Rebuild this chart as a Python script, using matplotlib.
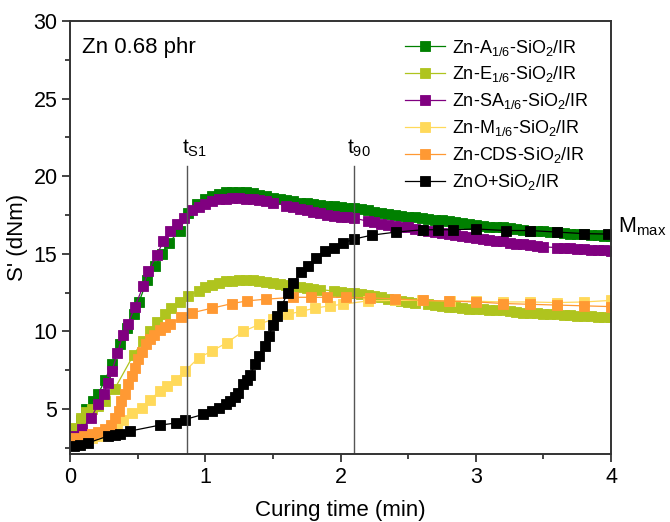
import matplotlib
matplotlib.use("Agg")
import matplotlib.pyplot as plt
from matplotlib.ticker import MultipleLocator

plt.rcParams['font.family'] = ['Liberation Sans', 'DejaVu Sans']
plt.rcParams['mathtext.fontset'] = 'custom'
plt.rcParams['mathtext.rm'] = 'Liberation Sans'
plt.rcParams['mathtext.it'] = 'Liberation Sans'
plt.rcParams['mathtext.default'] = 'regular'

# Curing curves: torque S' (dNm) versus curing time (min)
t_A = [0.04, 0.08, 0.12, 0.17, 0.21, 0.26, 0.31, 0.37, 0.42, 0.47, 0.51, 0.57, 0.63, 0.68,
       0.73, 0.81, 0.87, 0.94,
       1.0, 1.05, 1.1, 1.15, 1.2, 1.25, 1.3, 1.35, 1.4, 1.45, 1.5, 1.55, 1.6, 1.65, 1.7,
       1.75, 1.8, 1.85, 1.9, 1.95, 2.0, 2.05, 2.1, 2.15, 2.2, 2.25, 2.3, 2.35, 2.4, 2.45,
       2.5, 2.55, 2.6, 2.65, 2.7, 2.75, 2.8, 2.85, 2.9, 2.95, 3.0, 3.05, 3.1, 3.15, 3.2,
       3.25, 3.3, 3.35, 3.4, 3.45, 3.5, 3.55, 3.6, 3.65, 3.7, 3.75, 3.8, 3.85, 3.9, 3.95,
       4.0]
s_A = [3.7, 4.3, 5.0, 5.5, 6.0, 6.9, 7.9, 9.2, 10.2, 11.1, 11.9, 13.3, 14.2, 15.0,
       15.7, 16.5, 17.6, 18.2,
       18.55, 18.7, 18.85, 18.95, 19.0, 19.0, 18.97, 18.9, 18.8, 18.7, 18.6, 18.52, 18.45,
       18.38, 18.3, 18.25, 18.2, 18.15, 18.1, 18.05, 18.0, 17.97, 17.95, 17.88, 17.8,
       17.72, 17.65, 17.58, 17.5, 17.45, 17.4, 17.35, 17.3, 17.25, 17.2, 17.15, 17.1,
       17.05, 17.0, 16.92, 16.85, 16.8, 16.75, 16.72, 16.7, 16.65, 16.6, 16.55, 16.5,
       16.47, 16.45, 16.42, 16.4, 16.35, 16.3, 16.28, 16.25, 16.22, 16.2, 16.17, 16.15]

t_E = [0.02, 0.04, 0.08, 0.12, 0.16, 0.21, 0.26, 0.33, 0.47, 0.54, 0.59, 0.64, 0.7, 0.75,
       0.81, 0.875, 0.95,
       1.0, 1.05, 1.1, 1.15, 1.2, 1.25, 1.3, 1.35, 1.4, 1.45, 1.5, 1.55, 1.6, 1.65, 1.7,
       1.75, 1.8, 1.85, 1.95, 2.0, 2.05, 2.1, 2.15, 2.2, 2.25, 2.3, 2.35, 2.4, 2.45, 2.5,
       2.55, 2.65, 2.7, 2.75, 2.8, 2.85, 2.9, 2.95, 3.0, 3.05, 3.1, 3.15, 3.2, 3.25, 3.3,
       3.35, 3.4, 3.45, 3.5, 3.55, 3.6, 3.65, 3.7, 3.75, 3.8, 3.85, 3.9, 3.95, 4.0]
s_E = [3.5, 3.8, 4.4, 4.8, 5.0, 5.2, 5.5, 6.3, 8.5, 9.4, 10.0, 10.6, 11.1, 11.5,
       11.9, 12.3, 12.6,
       12.85, 13.0, 13.15, 13.22, 13.28, 13.3, 13.3, 13.3, 13.25, 13.2, 13.12, 13.05, 13.0,
       12.92, 12.85, 12.8, 12.75, 12.7, 12.6, 12.55, 12.5, 12.45, 12.4, 12.35, 12.28, 12.2,
       12.12, 12.05, 11.98, 11.9, 11.85, 11.75, 11.7, 11.65, 11.6, 11.55, 11.5, 11.47,
       11.45, 11.42, 11.4, 11.37, 11.35, 11.3, 11.25, 11.22, 11.2, 11.17, 11.15, 11.12,
       11.1, 11.07, 11.05, 11.02, 11.0, 10.97, 10.95, 10.92, 10.9]

t_SA = [0.04, 0.09, 0.155, 0.21, 0.25, 0.28, 0.31, 0.35, 0.39, 0.43, 0.48, 0.54, 0.58,
        0.64, 0.69, 0.74, 0.79, 0.84, 0.9, 0.95,
        1.0, 1.05, 1.1, 1.15, 1.2, 1.25, 1.3, 1.35, 1.4, 1.45, 1.5, 1.6, 1.65, 1.7, 1.75,
        1.8, 1.85, 1.9, 1.95, 2.0, 2.05, 2.1, 2.2, 2.25, 2.3, 2.35, 2.4, 2.45, 2.5, 2.55,
        2.6, 2.65, 2.7, 2.75, 2.8, 2.85, 2.9, 2.95, 3.0, 3.05, 3.1, 3.15, 3.2, 3.25, 3.3,
        3.35, 3.4, 3.45, 3.5, 3.6, 3.65, 3.7, 3.75, 3.8, 3.85, 3.9, 3.95, 4.0]
s_SA = [3.3, 3.7, 4.45, 5.3, 6.0, 6.7, 7.45, 8.6, 9.75, 10.5, 11.6, 12.9, 13.9,
        14.9, 15.8, 16.5, 16.9, 17.3, 17.8, 18.0,
        18.2, 18.4, 18.5, 18.55, 18.6, 18.6, 18.55, 18.5, 18.45, 18.38, 18.3, 18.1, 18.0,
        17.9, 17.8, 17.7, 17.6, 17.5, 17.45, 17.4, 17.35, 17.3, 17.1, 17.02, 16.95, 16.88,
        16.8, 16.75, 16.7, 16.62, 16.55, 16.48, 16.4, 16.35, 16.3, 16.22, 16.15, 16.08,
        16.0, 15.95, 15.9, 15.85, 15.8, 15.72, 15.65, 15.6, 15.55, 15.5, 15.45, 15.4,
        15.38, 15.35, 15.32, 15.3, 15.27, 15.25, 15.22, 15.2]

t_M = [0.06, 0.11, 0.16, 0.21, 0.26, 0.31, 0.35, 0.39, 0.46, 0.53, 0.59, 0.665, 0.715,
       0.78, 0.85, 0.95, 1.05, 1.16, 1.28, 1.4, 1.5, 1.61, 1.71, 1.81, 1.92, 2.02, 2.2, 2.4,
       2.6, 2.81, 3.0, 3.2, 3.4, 3.6, 3.8, 4.0]
s_M = [2.9, 3.0, 3.15, 3.3, 3.5, 3.7, 4.0, 4.33, 4.76, 5.08, 5.6, 6.16, 6.5,
       6.9, 7.45, 8.3, 8.74, 9.28, 10.0, 10.46, 10.8, 11.1, 11.3, 11.5, 11.65, 11.75, 11.97,
       12.0, 12.0, 11.97, 11.95, 11.9, 11.9, 11.86, 11.9, 12.0]

t_CDS = [0.04, 0.1, 0.16, 0.21, 0.26, 0.3, 0.33, 0.36, 0.38, 0.41, 0.43, 0.46, 0.48, 0.5,
         0.53, 0.56, 0.59, 0.62, 0.665, 0.7, 0.74, 0.82, 0.9, 1.05, 1.2, 1.31, 1.45, 1.65,
         1.78, 1.9, 2.04, 2.22, 2.4, 2.61, 2.8, 3.0, 3.2, 3.4, 3.6, 3.8, 4.0]
s_CDS = [3.15, 3.25, 3.37, 3.5, 3.7, 4.0, 4.44, 4.9, 5.5, 6.0, 6.6, 7.1, 7.66, 8.2,
         8.7, 9.2, 9.5, 9.8, 10.1, 10.3, 10.46, 10.9, 11.2, 11.5, 11.8, 11.97, 12.08, 12.2,
         12.2, 12.2, 12.2, 12.16, 12.1, 12.0, 11.95, 11.9, 11.8, 11.75, 11.7, 11.65, 11.6]

t_ZnO = [0.03, 0.074, 0.135, 0.28, 0.33, 0.37, 0.44, 0.665, 0.78, 0.85, 0.985, 1.05, 1.1,
         1.15, 1.18, 1.22, 1.245, 1.28, 1.31, 1.33, 1.37, 1.4, 1.44, 1.47, 1.5, 1.53, 1.565,
         1.61, 1.65, 1.71, 1.76, 1.82, 1.885, 1.95, 2.02, 2.1, 2.23, 2.41, 2.61, 2.72, 2.83,
         3.0, 3.22, 3.4, 3.6, 3.8, 3.98]
s_ZnO = [2.6, 2.72, 2.83, 3.26, 3.33, 3.4, 3.58, 3.97, 4.1, 4.33, 4.66, 4.9, 5.1,
         5.3, 5.5, 5.75, 6.05, 6.6, 6.9, 7.2, 7.9, 8.4, 9.06, 9.7, 10.4, 11.0, 11.65,
         12.5, 13.15, 13.8, 14.2, 14.76, 15.2, 15.4, 15.7, 15.95, 16.2, 16.4, 16.55, 16.55,
         16.55, 16.6, 16.5, 16.5, 16.4, 16.3, 16.27]

labels = ['Zn-A$_{1/6}$-SiO$_2$/IR', 'Zn-E$_{1/6}$-SiO$_2$/IR',
          'Zn-SA$_{1/6}$-SiO$_2$/IR', 'Zn-M$_{1/6}$-SiO$_2$/IR',
          'Zn-CDS-SiO$_2$/IR', 'ZnO+SiO$_2$/IR']
colors = ['#008000', '#AFC41E', '#800080', '#FFD95A', '#FF9933', '#000000']
series = [(t_A, s_A), (t_E, s_E), (t_SA, s_SA), (t_M, s_M), (t_CDS, s_CDS), (t_ZnO, s_ZnO)]

t_s1 = 0.865
t_90 = 2.10

fig = plt.figure(figsize=(6.70, 5.22), dpi=100)
ax = fig.add_axes([0.1045, 0.130, 0.8075, 0.830])

for (t, s), lab, c in zip(series, labels, colors):
    ax.plot(t, s, '-', color=c, lw=0.9, marker='s', ms=7.8, mew=0.6, mec=c, mfc=c,
            label=lab)

for tv in (t_s1, t_90):
    ax.plot([tv, tv], [2.1, 20.68], color='#555555', lw=1.0)

ax.text(t_s1 - 0.04, 21.45, 't$_{S1}$', fontsize=15, ha='left', va='baseline')
ax.text(t_90 - 0.05, 21.45, 't$_{90}$', fontsize=15, ha='left', va='baseline')
ax.text(0.085, 28.3, 'Zn 0.68 phr', fontsize=16, ha='left', va='center')
ax.text(4.052, 16.35, 'M$_{max}$', fontsize=15.5, ha='left', va='baseline',
        clip_on=False)

ax.set_xlim(0, 4)
ax.set_ylim(2.1, 30)
ax.xaxis.set_major_locator(MultipleLocator(1))
ax.xaxis.set_minor_locator(MultipleLocator(0.5))
ax.yaxis.set_major_locator(MultipleLocator(5))
ax.yaxis.set_minor_locator(MultipleLocator(2.5))
ax.set_yticks([5, 10, 15, 20, 25, 30])
ax.tick_params(which='both', direction='out', top=False, right=False, width=1.2,
               colors='#222222', labelcolor='black', labelsize=15.5)
ax.tick_params(which='major', length=6, pad=3)
ax.tick_params(which='minor', length=3.5)
for sp in ax.spines.values():
    sp.set_linewidth(1.4)
    sp.set_color('#333333')

ax.set_xlabel('Curing time (min)', fontsize=16, labelpad=9)
ax.set_ylabel("S' (dNm)", fontsize=16, labelpad=4)

leg = ax.legend(loc='upper left', bbox_to_anchor=(0.606, 0.978), frameon=False,
                fontsize=13, handlelength=2.2, handletextpad=0.4,
                labelspacing=0.38, borderaxespad=0.0, markerscale=0.85)

fig.savefig('out.png', dpi=100)
